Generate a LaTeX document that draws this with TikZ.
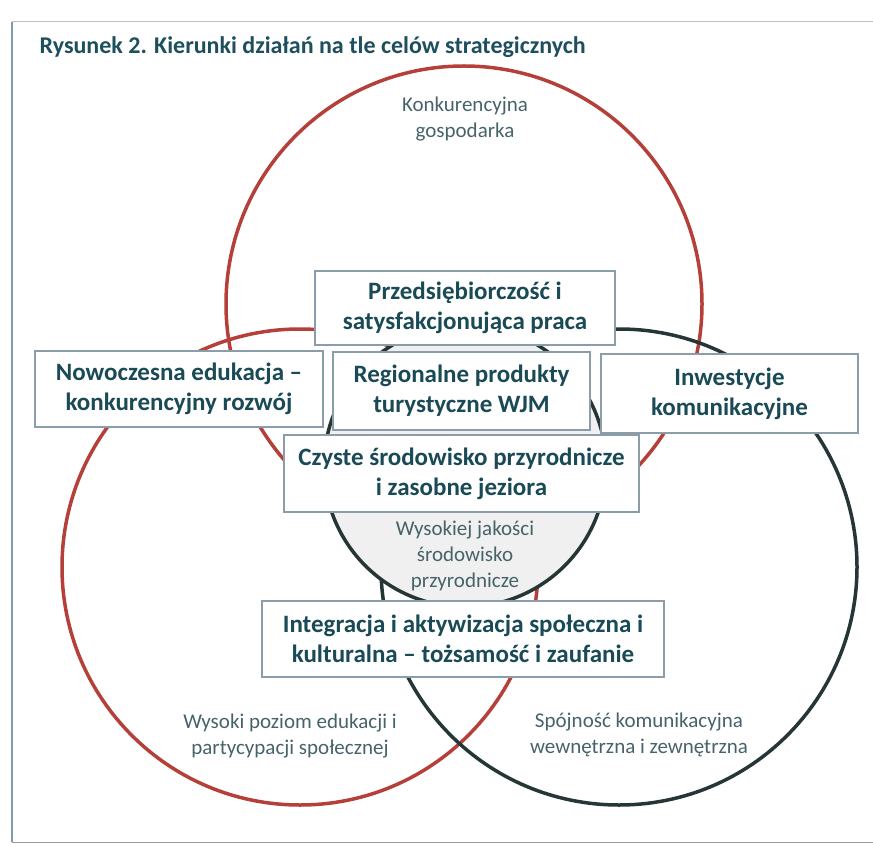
\documentclass[tikz,border=0pt]{standalone}
\usepackage{fontspec}
\setmainfont{Carlito}
\definecolor{titleteal}{HTML}{1D4F5C}
\definecolor{boxteal}{HTML}{1A4A55}
\definecolor{goalgray}{HTML}{46636A}
\definecolor{ringred}{HTML}{B5403A}
\definecolor{ringdark}{HTML}{263636}
\definecolor{boxedge}{HTML}{8C9DAA}
\definecolor{framecol}{HTML}{7F9BB3}
\begin{document}
\begin{tikzpicture}[x=1pt,y=-1pt,
    actionbox/.style={draw=boxedge, line width=1.2pt, fill=white, align=center,
      inner sep=0pt, text=boxteal, font=\fontsize{25}{30}\selectfont\bfseries},
    goaltext/.style={align=center, text=goalgray, font=\fontsize{21}{26}\selectfont}]
  \useasboundingbox (0,0) rectangle (873,845);
  \def\rbig{238}
  \def\rmid{141}

  % Frame
  \draw[framecol, line width=1.5] (12,842) -- (12,22);
  \draw[black!25, line width=1] (12,22) -- (873,22);
  \draw[black!40, line width=1] (12,842) -- (873,842);

  % Title
  \node[anchor=west, text=titleteal, font=\fontsize{24}{28}\selectfont\bfseries] (title) at (36,47)
    {Rysunek 2. Kierunki działań na tle celów strategicznych};

  % Draw circles
  \draw[ringred, line width=3.5] (300,567) circle (\rbig);
  \draw[ringred, line width=3.5] (464,304) circle (\rbig);
  \draw[ringdark, line width=3.5] (619,567) circle (\rbig);
  \draw[ringdark, line width=3.5, fill=black!6] (465,466) circle (\rmid);

  % Goals
  \node[goaltext] (gosp) at (465,119) {Konkurencyjna\\gospodarka};
  \node[goaltext] (srod) at (465,556) {Wysokiej jakości\\środowisko\\przyrodnicze};
  \node[goaltext] (eduk) at (290,736) {Wysoki poziom edukacji i\\partycypacji społecznej};
  \node[goaltext] (komu) at (639,735) {Spójność komunikacyjna\\wewnętrzna i zewnętrzna};

  % Action boxes
  \node[actionbox, minimum width=300, minimum height=74] (przed) at (465,308)
    {Przedsiębiorczość i\\satysfakcjonująca praca};
  \node[actionbox, minimum width=288, minimum height=76] (nowo) at (179,389)
    {Nowoczesna edukacja –\\konkurencyjny rozwój};
  \node[actionbox, minimum width=257, minimum height=78] (region) at (461.5,391)
    {Regionalne produkty\\turystyczne WJM};
  \node[actionbox, minimum width=257, minimum height=79] (inwest) at (729.5,393.5)
    {Inwestycje\\komunikacyjne};
  \node[actionbox, minimum width=355, minimum height=77] (czyste) at (461.5,473.5)
    {Czyste środowisko przyrodnicze\\i zasobne jeziora};
  \node[actionbox, minimum width=402, minimum height=76] (integr) at (463,639)
    {Integracja i aktywizacja społeczna i\\kulturalna – tożsamość i zaufanie};
\end{tikzpicture}
\end{document}
